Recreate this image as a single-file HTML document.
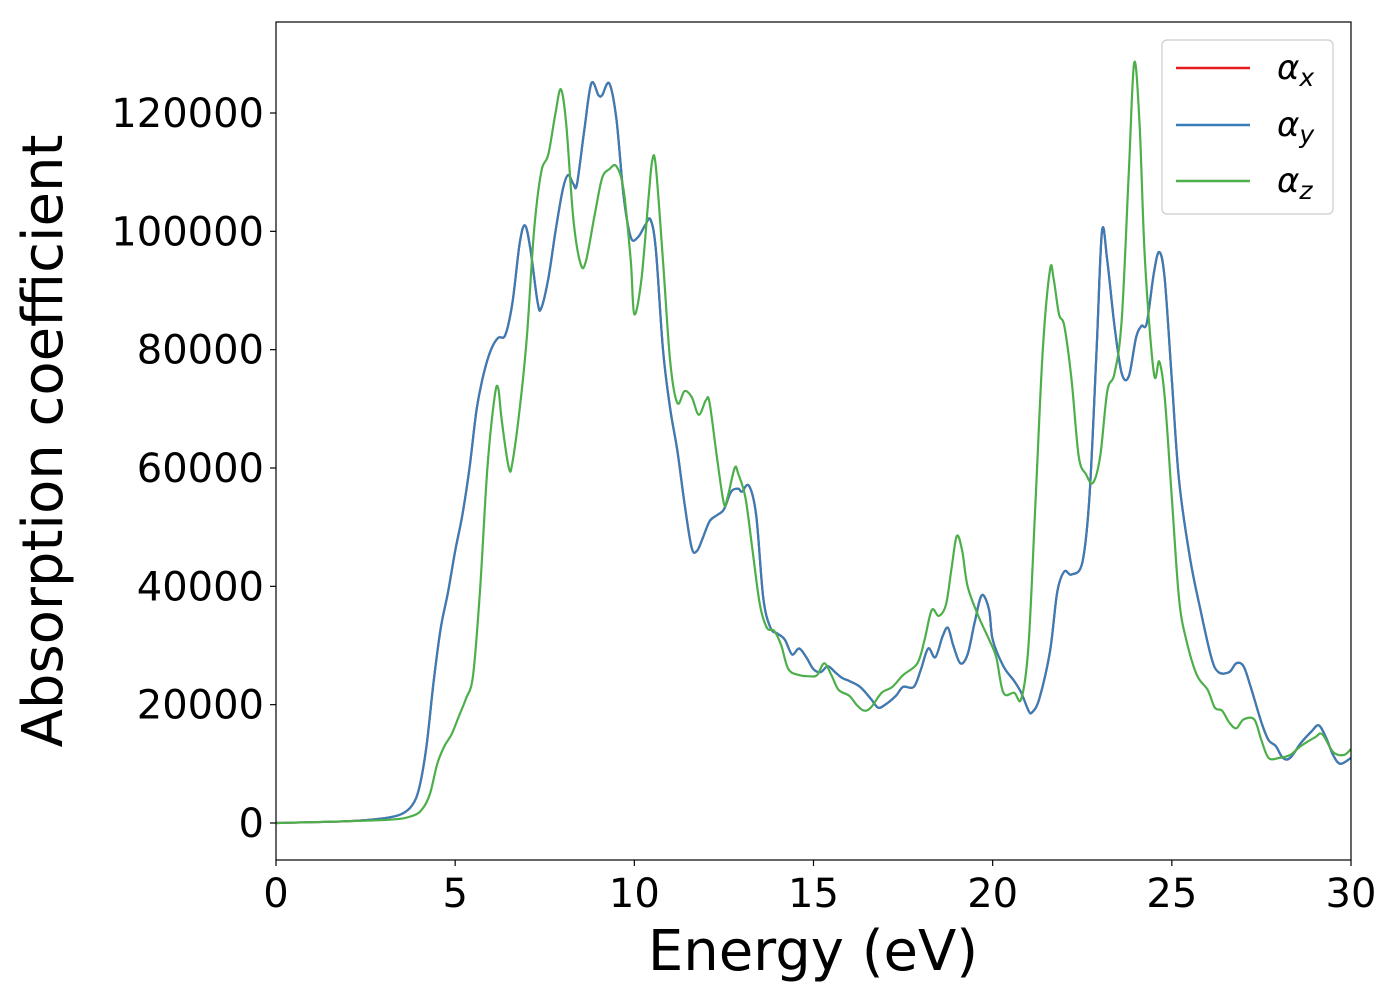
<!DOCTYPE html>
<html><head><meta charset="utf-8"><style>
body{margin:0;background:#fff;width:1400px;height:1000px;overflow:hidden}
svg text{font-family:"DejaVu Sans","Liberation Sans",sans-serif;fill:#000}
</style></head><body>
<svg id="chart" width="1400" height="1000" xmlns="http://www.w3.org/2000/svg"></svg>
<script>
const xTicks=[0,5,10,15,20,25,30];
const yTicks=[0,20000,40000,60000,80000,100000,120000];
const xyE=[0,2,3,3.5,3.8,4.0,4.2,4.4,4.6,4.8,5.0,5.2,5.4,5.6,5.8,6.0,6.2,6.4,6.6,6.8,6.95,7.1,7.3,7.4,7.6,7.8,8.0,8.15,8.3,8.4,8.6,8.8,9.0,9.1,9.3,9.5,9.7,9.9,10.1,10.3,10.45,10.6,10.8,11.0,11.2,11.4,11.6,11.75,11.9,12.1,12.3,12.5,12.7,12.9,13.0,13.2,13.4,13.6,13.8,14.0,14.2,14.4,14.6,14.8,15.0,15.2,15.4,15.6,15.8,16.0,16.3,16.6,16.8,17.0,17.3,17.5,17.8,18.0,18.2,18.4,18.6,18.75,18.9,19.1,19.3,19.5,19.7,19.9,20.0,20.3,20.6,20.8,21.0,21.1,21.3,21.6,21.8,22.0,22.2,22.5,22.7,22.9,23.05,23.2,23.4,23.6,23.8,24.0,24.15,24.3,24.5,24.65,24.8,25.0,25.2,25.5,25.8,26.1,26.3,26.6,26.8,27.0,27.2,27.5,27.7,27.9,28.1,28.3,28.6,28.9,29.1,29.3,29.5,29.7,30];
const xyV=[0,300,800,1500,3000,6000,13000,24000,33000,39000,46000,52000,60000,70000,76000,80000,82000,82500,88000,98000,101000,97000,88000,87000,92000,100000,107000,109500,108000,108000,117000,125000,123000,123000,125000,119000,106000,99000,99000,101000,102000,97000,80000,70000,63000,54000,46500,46000,48000,51000,52000,53000,56000,56500,56000,57000,52000,38000,33000,32000,31000,28500,29500,28000,26000,25500,26500,25500,24500,24000,23000,21000,19500,20000,21500,23000,23000,26000,29500,28000,31500,33000,30000,27000,28500,34000,38500,36000,31000,26500,24000,22000,19000,18700,21000,29000,39000,42500,42000,44000,55000,80000,100000,95000,84000,76000,75500,82000,84000,84500,93000,96500,92000,75000,58000,45000,36000,28000,25500,25500,27000,26500,23000,17000,14000,13000,11000,11000,13500,15500,16500,14500,11500,10000,11000];
const zE=[0,3,3.8,4.1,4.3,4.5,4.7,4.9,5.1,5.3,5.5,5.7,5.9,6.1,6.2,6.3,6.5,6.6,6.8,7.0,7.2,7.4,7.6,7.8,7.95,8.1,8.3,8.5,8.65,8.9,9.1,9.3,9.5,9.7,9.9,10.0,10.2,10.4,10.5,10.6,10.8,11.0,11.2,11.4,11.6,11.8,12.0,12.1,12.3,12.5,12.6,12.8,12.9,13.1,13.3,13.5,13.7,13.9,14.1,14.3,14.6,14.9,15.1,15.3,15.5,15.7,16.0,16.2,16.4,16.6,16.9,17.2,17.5,17.9,18.1,18.3,18.5,18.7,18.85,19.0,19.15,19.3,19.6,19.9,20.1,20.3,20.6,20.8,21.0,21.2,21.4,21.6,21.7,21.85,22.0,22.2,22.4,22.6,22.8,23.0,23.2,23.4,23.6,23.8,23.95,24.1,24.25,24.5,24.65,24.8,25.0,25.2,25.4,25.7,26.0,26.2,26.4,26.6,26.8,27.0,27.3,27.5,27.7,28.0,28.3,28.6,29.0,29.2,29.5,29.8,30];
const zV=[0,500,1200,2500,5000,10000,13000,15000,18000,21000,25000,40000,60000,72000,73500,68000,60000,61000,70000,82000,100000,110000,113000,120000,124000,118000,102000,94500,95000,103000,109000,110500,111000,107000,95000,86000,92000,106000,112000,111000,95000,78000,71000,73000,72000,69000,71500,71000,62000,54000,55000,60000,59000,55000,46000,37000,33000,32500,30000,26000,25000,24800,25000,27000,25000,22500,21500,20000,19000,19500,22000,23000,25000,27000,31000,36000,35000,37000,43000,48500,46000,40000,35000,31000,28000,22000,22000,21000,30000,55000,80000,93500,92000,86000,84000,75000,62000,59000,57500,62000,73000,76000,85000,110000,128500,118000,95000,76000,78000,72000,55000,38000,31000,25000,22500,19500,19000,17000,16000,17500,17500,14000,11000,11000,11500,13000,14500,15000,12000,11500,12500];

const L=276,R=1351,T=22,B=860;
const X=e=>L+(e-0)/(30-0)*(R-L);
const Y=v=>823-v*(710/120000);
const svg=document.getElementById('chart');
const NS='http://www.w3.org/2000/svg';
function mk(tag,attrs,parent){const el=document.createElementNS(NS,tag);for(const k in attrs)el.setAttribute(k,attrs[k]);(parent||svg).appendChild(el);return el;}
function smoothPath(xs,vs){
  const p=xs.map((e,i)=>[X(e),Y(vs[i])]);
  let d='M'+p[0][0].toFixed(1)+','+p[0][1].toFixed(1);
  for(let i=0;i<p.length-1;i++){
    const p0=p[i-1]||p[i],p1=p[i],p2=p[i+1],p3=p[i+2]||p2;
    const c1=[p1[0]+(p2[0]-p0[0])/6,p1[1]+(p2[1]-p0[1])/6];
    const c2=[p2[0]-(p3[0]-p1[0])/6,p2[1]-(p3[1]-p1[1])/6];
    d+=`C${c1[0].toFixed(1)},${c1[1].toFixed(1)} ${c2[0].toFixed(1)},${c2[1].toFixed(1)} ${p2[0].toFixed(1)},${p2[1].toFixed(1)}`;
  }
  return d;
}
const clip=mk('clipPath',{id:'pc'});mk('rect',{x:L,y:T,width:R-L,height:B-T},clip);
const g=mk('g',{'clip-path':'url(#pc)'});
const sx=mk('path',{d:smoothPath(xyE,xyV),fill:'none',stroke:'#e41a1c','stroke-width':2.2},g);


const sy=mk('path',{d:smoothPath(xyE,xyV),fill:'none',stroke:'#377eb8','stroke-width':2.2},g);


const sz=mk('path',{d:smoothPath(zE,zV),fill:'none',stroke:'#4daf4a','stroke-width':2.2},g);


const frame=mk('rect',{x:L,y:T,width:R-L,height:B-T,fill:'none',stroke:'#000','stroke-width':1.2});


xTicks.forEach(t=>{
  mk('line',{x1:X(t),x2:X(t),y1:B,y2:B+6,stroke:'#000','stroke-width':1.2});
  const tx=mk('text',{x:X(t),y:907,'font-size':40,'text-anchor':'middle'});tx.textContent=t;
  
  
});
yTicks.forEach(t=>{
  mk('line',{x1:L-6,x2:L,y1:Y(t),y2:Y(t),stroke:'#000','stroke-width':1.2});
  const tx=mk('text',{x:264,y:Y(t)+14,'font-size':40,'text-anchor':'end'});tx.textContent=t;
  
  
});
const xt=mk('text',{x:813,y:970,'font-size':56,'text-anchor':'middle'});xt.textContent='Energy (eV)';


const yt=mk('text',{x:0,y:0,'font-size':56,'text-anchor':'middle',transform:'translate(62,441) rotate(-90)'});yt.textContent='Absorption coefficient';


const lg=mk('g',{});


mk('rect',{x:1162,y:40,width:171,height:174,rx:5,fill:'#fff',stroke:'#ccc','stroke-width':1.2},lg);
const cols=['#e41a1c','#377eb8','#4daf4a'],subs=['x','y','z'],ly=[68,125,181];
cols.forEach((c,i)=>{
  mk('line',{x1:1176,x2:1250,y1:ly[i],y2:ly[i],stroke:c,'stroke-width':2.5},lg);
  const t=mk('text',{x:1277,y:ly[i]+11,'font-size':34,'font-style':'italic'},lg);
  t.innerHTML='α<tspan font-size="25" dy="7">'+subs[i]+'</tspan>';
  
  
});
</script>
</body></html>
